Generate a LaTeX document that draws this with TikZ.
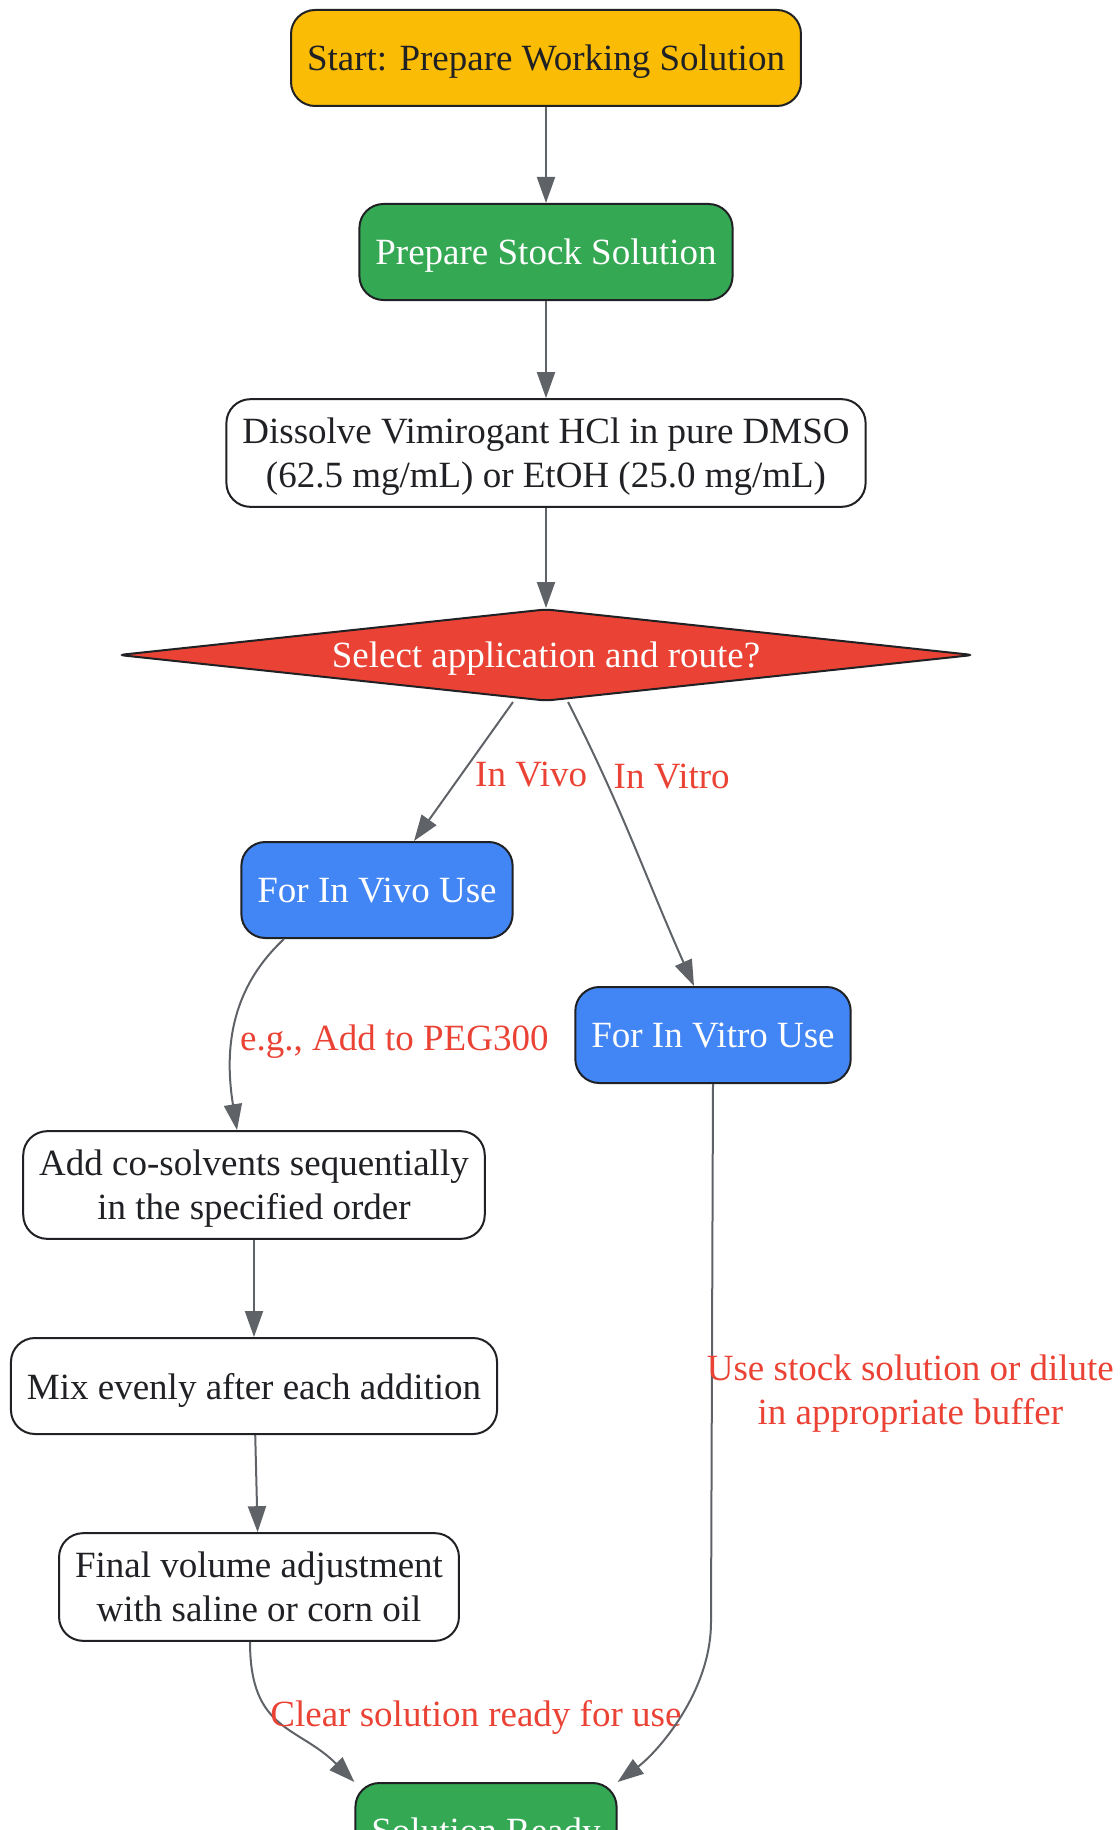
\documentclass[tikz,border=0pt]{standalone}
\usepackage{fontspec}
\setmainfont{Liberation Serif}
\usetikzlibrary{arrows.meta,shapes.geometric}

\definecolor{gyellow}{HTML}{FBBC05}
\definecolor{ggreen}{HTML}{34A853}
\definecolor{gred}{HTML}{EA4335}
\definecolor{gblue}{HTML}{4285F4}
\definecolor{ggray}{HTML}{5F6368}
\definecolor{inkdark}{HTML}{202124}

\begin{document}
\begin{tikzpicture}[>={Triangle[length=13pt,width=9pt]},node distance=100pt,
    every node/.style={font=\fontsize{18.5}{22}\selectfont},
    box/.style={draw=inkdark, line width=1pt, rounded corners=12pt, minimum height=48pt,
        inner xsep=8pt, inner ysep=9.5pt, text depth=0pt, align=center, text=inkdark, fill=white},
    startbox/.style={box, fill=gyellow},
    greenbox/.style={box, fill=ggreen, text=white},
    bluebox/.style={box, fill=gblue, text=white},
    choice/.style={diamond, draw=inkdark, line width=1pt, fill=gred, text=white, text depth=0pt,
        aspect=9.3, inner sep=0pt, minimum width=427.5pt, minimum height=46pt, rounded corners=3pt},
    flow/.style={->, draw=ggray, line width=1pt},
    lbl/.style={text=gred, align=center}]
            \useasboundingbox (0,0) rectangle (559.5pt,-915pt);

            \node[startbox]  (start)    at (273pt,-29pt)  {Start: Prepare Working Solution};
            \node[greenbox]  (stock)    [below of=start, node distance=97pt]     {Prepare Stock Solution};
            \node[box]       (dissolve) [below of=stock, node distance=100.5pt]  {Dissolve Vimirogant HCl in pure DMSO\\(62.5 mg/mL) or EtOH (25.0 mg/mL)};
            \node[choice]    (route)    [below of=dissolve, node distance=101pt] {Select application and route?};
            \node[bluebox]   (invivo)   [below of=route, node distance=117.5pt, xshift=-84.5pt] {For In Vivo Use};
            \node[bluebox]   (invitro)  [below of=route, node distance=190pt, xshift=83.5pt]   {For In Vitro Use};
            \node[box]       (cosolv)   [below of=invivo, node distance=147.5pt, xshift=-61.5pt] {Add co-solvents sequentially\\in the specified order};
            \node[box]       (mix)      [below of=cosolv, node distance=100.5pt] {Mix evenly after each addition};
            \node[box]       (final)    [below of=mix, node distance=100.5pt, xshift=2.5pt] {Final volume adjustment\\with saline or corn oil};
            \node[greenbox]  (ready)    [below of=final, node distance=122pt, xshift=113.5pt] {Solution Ready};

            \path[every edge/.style={flow}]
                (start) edge (stock)
                (stock) edge (dissolve)
                (dissolve) edge (route)
                ([xshift=-16.5pt]route.south) edge node[lbl, pos=0.52, anchor=west, xshift=3pt] {In Vivo} ([xshift=18.5pt]invivo.north)
                ([xshift=11pt]route.south) edge[out=-63, in=114] node[lbl, pos=0.25, anchor=west, xshift=1pt] {In Vitro} ([xshift=-9.5pt]invitro.north)
                ([xshift=-46.5pt]invivo.south) edge[out=-137, in=99] node[lbl, pos=0.58, anchor=west] {e.g., Add to PEG300} ([xshift=-8.5pt]cosolv.north)
                (cosolv) edge (mix)
                (mix) edge (final)
                ([xshift=-4.5pt]final.south) edge[out=-90, in=135, out distance=45pt, in distance=40pt]
                    node[lbl, pos=0.43, anchor=west, inner sep=1pt, xshift=-3pt] {Clear solution ready for use} (ready.north west);

            % long way round for the in vitro branch
            \draw[flow] (invitro.south) -- node[lbl, pos=0.575, anchor=west, inner sep=0pt, xshift=-3pt] {Use stock solution or dilute\\in appropriate buffer} ++(-1pt,-269pt)
                .. controls +(0,-35pt) and +(20pt,15pt) .. (ready.north east);
        \end{tikzpicture}
\end{document}
